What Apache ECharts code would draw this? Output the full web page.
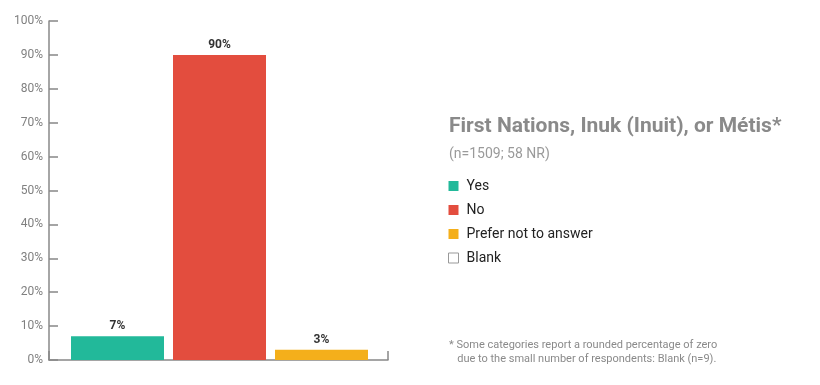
<!DOCTYPE html>
<html><head><meta charset="utf-8">
<script src="https://cdn.jsdelivr.net/npm/echarts@6/dist/echarts.min.js"></script>
<style>html,body{margin:0;padding:0;background:#fff}#c{width:820px;height:385px}</style>
</head><body><div id="c"></div>
<script>
var categories = ['Yes', 'No', 'Prefer not to answer'];
var yesValues = [7, '-', '-'];
var noValues = ['-', 90, '-'];
var preferValues = ['-', '-', 3];
var blankValues = ['-', '-', '-'];
var yTickLabels = ['0%','10%','20%','30%','40%','50%','60%','70%','80%','90%','100%'];
var chartTitle = 'First Nations, Inuk (Inuit), or Métis*';
var chartSubtitle = '(n=1509; 58 NR)';
var footnoteLines = ['* Some categories report a rounded percentage of zero', '   due to the small number of respondents: Blank (n=9).'];

var FONT = 'Roboto, "Noto Sans", sans-serif';
var colors = {Yes:'#22B99A', No:'#E34D3E', Prefer:'#F4AF1B'};
var barLabel = {show:true, position:'top', distance:4, fontFamily:FONT, fontWeight:'bold', fontSize:12, color:'#333', formatter:'{c}%'};

function barSeries(name, data, color) {
  return {name:name, type:'bar', xAxisIndex:0, yAxisIndex:0, data:data, barWidth:93, barGap:'-100%',
    itemStyle:{color:color}, label:barLabel, silent:true};
}

var chart = echarts.init(document.getElementById('c'), null, {renderer:'canvas'});
chart.setOption({
  animation:false,
  title:[{
    text: chartTitle, subtext: chartSubtitle, left: 449, top: 116, itemGap: 10, padding:0,
    textStyle:{fontFamily:FONT, fontSize:21, fontWeight:'bold', color:'#8a8a8a'},
    subtextStyle:{fontFamily:FONT, fontSize:14, color:'#9a9a9a'}
  },{
    text: footnoteLines.join('\n'), left: 449, top: 338, padding:0,
    textStyle:{fontFamily:FONT, fontSize:11, fontWeight:'normal', color:'#8a8a8a', lineHeight:14}
  }],
  legend:{
    orient:'vertical', left:448, top:179, padding:0, itemWidth:10, itemHeight:10, itemGap:10,
    textStyle:{fontFamily:FONT, fontSize:14, color:'#222', padding:[0,0,0,3]},
    data:[
      {name:'Yes', icon:'rect'},
      {name:'No', icon:'rect'},
      {name:'Prefer not to answer', icon:'rect'},
      {name:'Blank', icon:'rect', itemStyle:{color:'#fff', borderColor:'#999', borderWidth:1}}
    ],
    selectedMode:false
  },
  grid:[
    {left:66.5, right:447.5, top:21, bottom:25},
    {left:49, right:432, top:21, bottom:25}
  ],
  xAxis:[
    {type:'category', gridIndex:0, data:categories, show:false},
    {type:'value', gridIndex:1, min:0, max:1, interval:1,
      axisLine:{show:true, lineStyle:{color:'#888', width:1.5}},
      axisTick:{show:true, inside:true, length:9, lineStyle:{color:'#888', width:1.5}},
      axisLabel:{show:false}, splitLine:{show:false}}
  ],
  yAxis:[
    {type:'value', gridIndex:0, min:0, max:100, show:false},
    {type:'value', gridIndex:1, min:0, max:100, interval:10,
      axisLine:{show:true, lineStyle:{color:'#888', width:1.5}},
      axisTick:{show:true, inside:true, length:9, lineStyle:{color:'#888', width:1.5}},
      axisLabel:{margin:6, fontFamily:FONT, fontSize:12, color:'#808080',
        formatter:function(v){return yTickLabels[Math.round(v/10)];}},
      splitLine:{show:false}}
  ],
  series:[
    barSeries('Yes', yesValues, colors.Yes),
    barSeries('No', noValues, colors.No),
    barSeries('Prefer not to answer', preferValues, colors.Prefer),
    {name:'Blank', type:'bar', xAxisIndex:0, yAxisIndex:0, data:blankValues, barWidth:93, barGap:'-100%',
      itemStyle:{color:'#fff', borderColor:'#999', borderWidth:1}, silent:true}
  ]
});
</script></body></html>
